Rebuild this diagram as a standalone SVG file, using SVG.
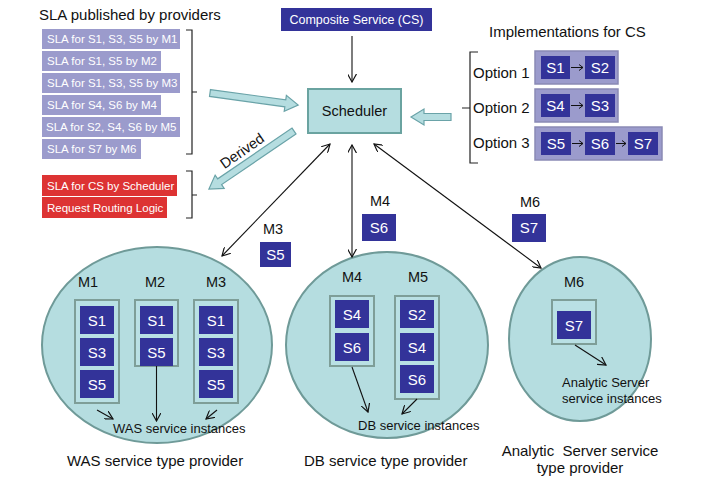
<svg xmlns="http://www.w3.org/2000/svg" width="707" height="478" viewBox="0 0 707 478">
<style>
text{font-family:"Liberation Sans",Arial,sans-serif;fill:#111}
.sla{fill:#9b9bcc}
.slat{fill:#fff;font-size:11.5px}
.red{fill:#dd3333}
.sb{fill:#333399}
.sbt{fill:#fff;font-size:15px;text-anchor:middle}
.opt{fill:#9b9bcc;stroke:#8a8ab5;stroke-width:1.5}
.ell{fill:#b5dde0;stroke:#6f9a98;stroke-width:2}
.cont{fill:#b9e0e4;stroke:#7e9e98;stroke-width:2}
.ml{font-size:14.5px;text-anchor:middle}
.lbl{font-size:13px}
.big{font-size:15px}
.ln{stroke:#111;stroke-width:1.1;fill:none}
.br{stroke:#222;stroke-width:1.2;fill:none}
.hol{fill:#b5dde0;stroke:#6aa3a8;stroke-width:1.2}
</style>
<defs>
<marker id="ah" viewBox="0 0 10 10" refX="9" refY="5" markerWidth="9" markerHeight="9" orient="auto-start-reverse" markerUnits="userSpaceOnUse"><path d="M0,0 L9,5 L0,10" fill="none" stroke="#111" stroke-width="1.3"/></marker>
</defs>

<g id="sla-list">
<text x="39" y="20" class="big">SLA published by providers</text>
<rect class="sla" x="42" y="29" width="138" height="20"/><text class="slat" x="47" y="43">SLA for S1, S3, S5 by M1</text>
<rect class="sla" x="42" y="51" width="119" height="20"/><text class="slat" x="47" y="65">SLA for S1, S5 by M2</text>
<rect class="sla" x="42" y="73" width="138" height="20"/><text class="slat" x="47" y="87">SLA for S1, S3, S5 by M3</text>
<rect class="sla" x="42" y="95" width="119" height="20"/><text class="slat" x="47" y="109">SLA for S4, S6 by M4</text>
<rect class="sla" x="42" y="117" width="138" height="20"/><text class="slat" x="46" y="131">SLA for S2, S4, S6 by M5</text>
<rect class="sla" x="42" y="139" width="99" height="20"/><text class="slat" x="47" y="153">SLA for S7 by M6</text>
<path class="br" d="M186,30 H192 V154 H186 M192,92 H197"/>
</g>

<g id="derived-list">
<rect class="red" x="42" y="175" width="135" height="21"/><text class="slat" x="47" y="190">SLA for CS by Scheduler</text>
<rect class="red" x="42" y="197" width="125" height="21"/><text class="slat" x="47" y="212">Request Routing Logic</text>
<path class="br" d="M186,171 H192 V218 H186 M192,195 H197"/>
</g>

<g id="composite-service">
<rect class="sb" x="281" y="8" width="151" height="23"/>
<text x="356.5" y="24" style="fill:#fff;font-size:12.5px;text-anchor:middle">Composite Service (CS)</text>
</g>

<g id="scheduler">
<rect x="308" y="89" width="93" height="44" fill="#b5dde0" stroke="#6aa3a0" stroke-width="2"/>
<text x="354.5" y="116" style="font-size:14.5px;text-anchor:middle">Scheduler</text>
</g>

<g id="implementations">
<text x="489" y="37" style="font-size:15px">Implementations for CS</text>
<path class="br" d="M478,52 H470 V163 H478 M470,108 H462"/>
<text x="473" y="78" class="big">Option 1</text>
<text x="473" y="113" class="big">Option 2</text>
<text x="473" y="148" class="big">Option 3</text>
<rect class="opt" x="535" y="51" width="83" height="33"/>
<rect class="sb" x="541" y="56" width="29" height="23"/><text class="sbt" x="555.5" y="73">S1</text>
<rect class="sb" x="585" y="56" width="30" height="23"/><text class="sbt" x="600" y="73">S2</text>
<rect class="opt" x="535" y="89" width="83" height="33"/>
<rect class="sb" x="541" y="94" width="29" height="23"/><text class="sbt" x="555.5" y="111">S4</text>
<rect class="sb" x="585" y="94" width="30" height="23"/><text class="sbt" x="600" y="111">S3</text>
<rect class="opt" x="535" y="127" width="127" height="33"/>
<rect class="sb" x="541" y="132" width="30" height="23"/><text class="sbt" x="556" y="149">S5</text>
<rect class="sb" x="585" y="132" width="30" height="23"/><text class="sbt" x="600" y="149">S6</text>
<rect class="sb" x="628" y="132" width="30" height="23"/><text class="sbt" x="643" y="149">S7</text>
<g stroke="#111" stroke-width="1" fill="none">
<path d="M571,67.5 H583 M579,64.5 L583,67.5 L579,70.5"/>
<path d="M571,105.5 H583 M579,102.5 L583,105.5 L579,108.5"/>
<path d="M572,143.5 H583 M579,140.5 L583,143.5 L579,146.5"/>
<path d="M616,143.5 H626 M622,140.5 L626,143.5 L622,146.5"/>
</g>
</g>

<g id="was-provider">
<ellipse class="ell" cx="157" cy="345" rx="115" ry="98"/>
<text class="ml" x="88" y="287">M1</text>
<text class="ml" x="155" y="287">M2</text>
<text class="ml" x="216" y="287">M3</text>
<rect class="cont" x="75" y="300" width="44" height="103"/>
<rect class="sb" x="80" y="306" width="34" height="28"/><text class="sbt" x="97" y="326">S1</text>
<rect class="sb" x="80" y="338" width="34" height="28"/><text class="sbt" x="97" y="358">S3</text>
<rect class="sb" x="80" y="370" width="34" height="28"/><text class="sbt" x="97" y="390">S5</text>
<rect class="cont" x="135" y="300" width="43" height="66"/>
<rect class="sb" x="140" y="306" width="33" height="28"/><text class="sbt" x="156.5" y="326">S1</text>
<rect class="sb" x="140" y="338" width="33" height="28"/><text class="sbt" x="156.5" y="358">S5</text>
<rect class="cont" x="194" y="300" width="44" height="103"/>
<rect class="sb" x="199" y="306" width="34" height="28"/><text class="sbt" x="216" y="326">S1</text>
<rect class="sb" x="199" y="338" width="34" height="28"/><text class="sbt" x="216" y="358">S3</text>
<rect class="sb" x="199" y="370" width="34" height="28"/><text class="sbt" x="216" y="390">S5</text>
<text class="lbl" x="113" y="433">WAS service instances</text>
<text class="big" x="67" y="466">WAS service type provider</text>
</g>

<g id="db-provider">
<ellipse class="ell" cx="387" cy="345" rx="101" ry="93"/>
<text class="ml" x="352" y="282">M4</text>
<text class="ml" x="418" y="282">M5</text>
<rect class="cont" x="330" y="296" width="44" height="70"/>
<rect class="sb" x="335" y="300" width="34" height="28"/><text class="sbt" x="352" y="320">S4</text>
<rect class="sb" x="335" y="333" width="34" height="28"/><text class="sbt" x="352" y="353">S6</text>
<rect class="cont" x="395" y="296" width="44" height="103"/>
<rect class="sb" x="400" y="300" width="34" height="28"/><text class="sbt" x="417" y="320">S2</text>
<rect class="sb" x="400" y="333" width="34" height="28"/><text class="sbt" x="417" y="353">S4</text>
<rect class="sb" x="400" y="365" width="34" height="28"/><text class="sbt" x="417" y="385">S6</text>
<text class="lbl" x="358" y="430">DB service instances</text>
<text class="big" x="304" y="466">DB service type provider</text>
</g>

<g id="analytic-provider">
<ellipse class="ell" cx="580" cy="339" rx="71" ry="82"/>
<text class="ml" x="574" y="287">M6</text>
<rect class="cont" x="552" y="300" width="44" height="44"/>
<rect class="sb" x="557" y="311" width="34" height="28"/><text class="sbt" x="574" y="331">S7</text>
<text class="lbl" x="562" y="387">Analytic Server</text>
<text class="lbl" x="562" y="403">service instances</text>
<text class="big" x="580" y="456" text-anchor="middle" style="white-space:pre">Analytic  Server service</text>
<text class="big" x="580" y="473" text-anchor="middle">type provider</text>
</g>

<g id="deploy-labels">
<text class="ml" x="273" y="234">M3</text>
<rect class="sb" x="260" y="242" width="31" height="25"/><text class="sbt" x="275.5" y="260">S5</text>
<text class="ml" x="380" y="206">M4</text>
<rect class="sb" x="362" y="214" width="34" height="27"/><text class="sbt" x="379" y="233">S6</text>
<text class="ml" x="530" y="207">M6</text>
<rect class="sb" x="512" y="214" width="34" height="28"/><text class="sbt" x="529" y="233">S7</text>
</g>

<g id="connectors">
<line class="ln" x1="352" y1="36" x2="352" y2="82" marker-end="url(#ah)"/>
<line class="ln" x1="330" y1="144" x2="222" y2="256" marker-start="url(#ah)" marker-end="url(#ah)"/>
<line class="ln" x1="352" y1="145" x2="352" y2="257" marker-start="url(#ah)" marker-end="url(#ah)"/>
<line class="ln" x1="374" y1="144" x2="541" y2="268" marker-start="url(#ah)" marker-end="url(#ah)"/>
<line class="ln" x1="97" y1="410" x2="113" y2="419" marker-end="url(#ah)"/>
<line class="ln" x1="156.5" y1="366" x2="156.5" y2="421" marker-end="url(#ah)"/>
<line class="ln" x1="217" y1="410" x2="206" y2="419" marker-end="url(#ah)"/>
<line class="ln" x1="352" y1="367" x2="368" y2="412" marker-end="url(#ah)"/>
<line class="ln" x1="417" y1="399" x2="402" y2="414" marker-end="url(#ah)"/>
<line class="ln" x1="575" y1="345" x2="606" y2="365" marker-end="url(#ah)"/>
<polygon class="hol" transform="translate(210,93) rotate(7.8)" points="0,-3.5 76,-3.5 76,-8 89,0 76,8 76,3.5 0,3.5"/>
<polygon class="hol" transform="translate(294,131) rotate(145.7)" points="0,-3.5 90,-3.5 90,-8 103,0 90,8 90,3.5 0,3.5"/>
<polygon class="hol" transform="translate(451,117) rotate(180)" points="0,-3.5 27,-3.5 27,-8 40,0 27,8 27,3.5 0,3.5"/>
<text x="0" y="0" transform="translate(245,155) rotate(-35)" style="font-size:14.5px;text-anchor:middle">Derived</text>
</g>
</svg>
